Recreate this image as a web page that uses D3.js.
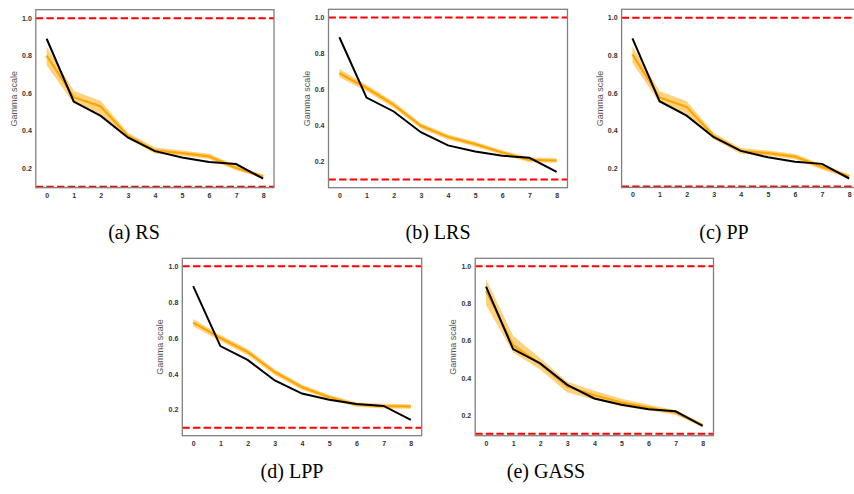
<!DOCTYPE html>
<html>
<head>
<meta charset="utf-8">
<script src="https://cdn.jsdelivr.net/npm/d3@7"></script>
<style>
  body { margin: 0; background: #fff; }
  svg { display: block; }
</style>
</head>
<body>
<svg width="854" height="494"></svg>
<script>
var steps = [0, 1, 2, 3, 4, 5, 6, 7, 8];
var yTicks = [0.2, 0.4, 0.6, 0.8, 1.0];
var bounds = [0.1, 1.0];

// black reference curve (same in every panel)
var baseline = [0.89, 0.555, 0.478, 0.363, 0.29, 0.256, 0.232, 0.221, 0.143];

var rsMean = [0.80, 0.578, 0.528, 0.372, 0.294, 0.28, 0.262, 0.20, 0.155];
var rsLow  = [0.748, 0.545, 0.486, 0.356, 0.278, 0.266, 0.248, 0.188, 0.146];
var rsHigh = [0.848, 0.612, 0.558, 0.388, 0.31, 0.294, 0.276, 0.213, 0.165];

var lrsMean = [0.69, 0.608, 0.515, 0.398, 0.336, 0.297, 0.25, 0.209, 0.206];
var lrsLow  = [0.668, 0.59, 0.498, 0.383, 0.322, 0.284, 0.238, 0.196, 0.194];
var lrsHigh = [0.714, 0.626, 0.532, 0.413, 0.35, 0.31, 0.262, 0.222, 0.218];

var ppMean = [0.805, 0.575, 0.525, 0.37, 0.29, 0.278, 0.26, 0.205, 0.155];
var ppLow  = [0.76, 0.545, 0.485, 0.352, 0.275, 0.264, 0.246, 0.19, 0.146];
var ppHigh = [0.85, 0.61, 0.555, 0.386, 0.306, 0.292, 0.274, 0.218, 0.164];

var lppMean = [0.686, 0.60, 0.522, 0.41, 0.326, 0.27, 0.228, 0.22, 0.218];
var lppLow  = [0.666, 0.583, 0.505, 0.394, 0.312, 0.258, 0.216, 0.207, 0.205];
var lppHigh = [0.706, 0.617, 0.539, 0.426, 0.34, 0.282, 0.24, 0.233, 0.231];

var gassMean = [0.868, 0.576, 0.474, 0.354, 0.307, 0.268, 0.241, 0.214, 0.146];
var gassLow  = [0.79, 0.537, 0.445, 0.322, 0.283, 0.248, 0.226, 0.202, 0.136];
var gassHigh = [0.93, 0.626, 0.505, 0.379, 0.331, 0.288, 0.256, 0.226, 0.156];

var captions = ["(a) RS", "(b) LRS", "(c) PP", "(d) LPP", "(e) GASS"];

var panels = [
    {mean: rsMean, low: rsLow, high: rsHigh, box: [35.8, 274, 9.7, 187.7], ydom: [0.095, 1.045], cap: [134, 239]},
    {mean: lrsMean, low: lrsLow, high: lrsHigh, box: [328.5, 567.5, 9.3, 187.7], ydom: [0.055, 1.045], cap: [438, 239]},
    {mean: ppMean, low: ppLow, high: ppHigh, box: [621.6, 860, 9.3, 187.5], ydom: [0.095, 1.045], cap: [724, 239]},
    {mean: lppMean, low: lppLow, high: lppHigh, box: [182.3, 421.7, 258.3, 435.7], ydom: [0.055, 1.045], cap: [292, 478]},
    {mean: gassMean, low: gassLow, high: gassHigh, box: [475.2, 713.5, 258.3, 435.7], ydom: [0.09, 1.042], cap: [546, 478]}
];

var svg = d3.select("svg");

panels.forEach(function (p, i) {
    var x = d3.scaleLinear().domain([-0.4, 8.4]).range([p.box[0], p.box[1]]);
    var y = d3.scaleLinear().domain(p.ydom).range([p.box[3], p.box[2]]);
    var g = svg.append("g");

    var clipId = "clip" + i;
    g.append("clipPath").attr("id", clipId)
        .append("rect")
        .attr("x", p.box[0]).attr("y", p.box[2])
        .attr("width", p.box[1] - p.box[0]).attr("height", p.box[3] - p.box[2]);

    var plot = g.append("g").attr("clip-path", "url(#" + clipId + ")");

    var area = d3.area()
        .x(function (d, j) { return x(steps[j]); })
        .y0(function (d, j) { return y(p.low[j]); })
        .y1(function (d, j) { return y(p.high[j]); });

    var line = d3.line()
        .x(function (d, j) { return x(steps[j]); })
        .y(function (d) { return y(d); });

    plot.append("path")
        .datum(p.mean)
        .attr("d", area)
        .attr("fill", "#ffa500")
        .attr("fill-opacity", 0.5);

    plot.append("path")
        .datum(p.mean)
        .attr("d", line)
        .attr("fill", "none")
        .attr("stroke", "#ffa500")
        .attr("stroke-width", 2.2);

    plot.append("path")
        .datum(baseline)
        .attr("d", line)
        .attr("fill", "none")
        .attr("stroke", "#000")
        .attr("stroke-width", 2);

    plot.selectAll(".bound")
        .data(bounds)
        .enter().append("line")
        .attr("x1", p.box[0]).attr("x2", p.box[1])
        .attr("y1", function (d) { return y(d); })
        .attr("y2", function (d) { return y(d); })
        .attr("stroke", "#ff0000")
        .attr("stroke-width", 2)
        .attr("stroke-dasharray", "7.4,3.2");

    var xAxis = g.append("g")
        .attr("transform", "translate(0," + p.box[3] + ")")
        .call(d3.axisBottom(x).tickValues(steps).tickSize(0).tickPadding(5).tickFormat(d3.format("d")));
    var yAxis = g.append("g")
        .attr("transform", "translate(" + p.box[0] + ",0)")
        .call(d3.axisLeft(y).tickValues(yTicks).tickSize(0).tickPadding(4).tickFormat(d3.format(".1f")));

    [xAxis, yAxis].forEach(function (a) {
        a.select(".domain").remove();
        a.selectAll("text")
            .attr("fill", "#333")
            .style("font-family", "Liberation Sans, Arial, sans-serif")
            .style("font-size", "7px")
            .style("font-weight", "bold");
    });

    g.append("rect")
        .attr("x", p.box[0]).attr("y", p.box[2])
        .attr("width", p.box[1] - p.box[0]).attr("height", p.box[3] - p.box[2])
        .attr("fill", "none")
        .attr("stroke", "#808080")
        .attr("stroke-width", 1.3);

    var cy = (p.box[2] + p.box[3]) / 2;
    g.append("text")
        .attr("transform", "translate(" + (p.box[0] - 19) + "," + cy + ") rotate(-90)")
        .attr("text-anchor", "middle")
        .attr("fill", "#555")
        .style("font-family", "Liberation Sans, Arial, sans-serif")
        .style("font-size", "9px")
        .text("Gamma scale");

    svg.append("text")
        .attr("x", p.cap[0]).attr("y", p.cap[1])
        .attr("text-anchor", "middle")
        .style("font-family", "Liberation Serif, Times New Roman, serif")
        .style("font-size", "20px")
        .attr("fill", "#000")
        .text(captions[i]);
});
</script>
</body>
</html>
